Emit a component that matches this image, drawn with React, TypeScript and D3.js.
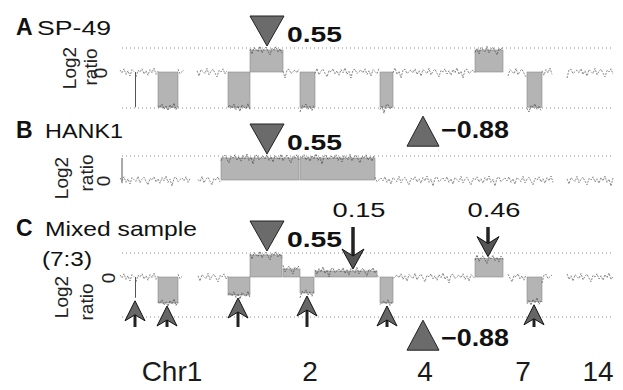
import * as d3 from "d3";

type Seg = { start: number; end: number; value: number };

// genome position (arbitrary units along the concatenated chromosomes) and log2 ratio
const sp49Segments: Seg[] = [
  { start: 2, end: 17, value: 0 },
  { start: 17, end: 18, value: -0.88 },
  { start: 18, end: 40, value: 0 },
  { start: 40, end: 60, value: -0.88 },
  { start: 60, end: 66, value: 0 },
  { start: 79, end: 110, value: 0 },
  { start: 110, end: 132, value: -0.88 },
  { start: 132, end: 165, value: 0.55 },
  { start: 165, end: 182, value: 0 },
  { start: 182, end: 197, value: -0.88 },
  { start: 197, end: 262, value: 0 },
  { start: 262, end: 275, value: -0.88 },
  { start: 275, end: 357, value: 0 },
  { start: 357, end: 385, value: 0.55 },
  { start: 390, end: 409, value: 0 },
  { start: 409, end: 424, value: -0.88 },
  { start: 424, end: 435, value: 0 },
  { start: 449, end: 495, value: 0 },
];

const hank1Segments: Seg[] = [
  { start: 2, end: 72, value: 0 },
  { start: 80, end: 103, value: 0 },
  { start: 103, end: 182, value: 0.55 },
  { start: 182, end: 257, value: 0.55 },
  { start: 257, end: 435, value: 0 },
  { start: 449, end: 495, value: 0 },
];

const mixedSegments: Seg[] = [
  { start: 2, end: 17, value: 0 },
  { start: 17, end: 18, value: -0.52 },
  { start: 18, end: 40, value: 0 },
  { start: 40, end: 60, value: -0.65 },
  { start: 60, end: 64, value: 0 },
  { start: 80, end: 110, value: 0 },
  { start: 110, end: 132, value: -0.45 },
  { start: 132, end: 165, value: 0.55 },
  { start: 165, end: 182, value: 0.2 },
  { start: 182, end: 196, value: -0.4 },
  { start: 197, end: 259, value: 0.15 },
  { start: 259, end: 262, value: 0 },
  { start: 262, end: 275, value: -0.65 },
  { start: 275, end: 357, value: 0 },
  { start: 357, end: 385, value: 0.46 },
  { start: 390, end: 409, value: 0 },
  { start: 409, end: 424, value: -0.62 },
  { start: 424, end: 435, value: 0 },
  { start: 449, end: 495, value: 0 },
];

// probe scatter around each segment level
const jitter = [
  0.05, -0.02, 0.08, -0.06, 0.03, -0.1, 0.06, 0.01, -0.04, 0.09, -0.07, 0.02,
  0.07, -0.03, -0.12, 0.04, 0.0, 0.08, -0.05, 0.03, -0.08, 0.06, -0.02, 0.1,
  -0.06, 0.02, -0.15, 0.05, 0.07, -0.04, 0.01,
];

const chrLabels = ["Chr1", "2", "4", "7", "14"];
const chrCenters = [54, 192, 307, 405, 480];

const gainPos = 149;
const gainLabel = "0.55";
const gainValue = 0.55;
const lossPos = 305;
const lossLabel = "\u22120.88";
const lossValue = -0.88;

const mixedGainArrows = [
  { pos: 235, value: 0.15, label: "0.15" },
  { pos: 370, value: 0.46, label: "0.46" },
];
const mixedLossArrows = [17, 49, 120, 189, 269, 416];

const panels = [
  { letter: "A", name: "SP-49", nameX: 37, nameLen: 74, sub: "", segs: sp49Segments, zero: 72, labelY: 35, log2X: 76, ratioX: 97, zeroX: 107, log2Y: 68, ratioY: 67, refs: [0.6, -0.9] },
  { letter: "B", name: "HANK1", nameX: 45, nameLen: 78, sub: "", segs: hank1Segments, zero: 180, labelY: 138, log2X: 68, ratioX: 93, zeroX: 110, log2Y: 178, ratioY: 173, refs: [0.6] },
  { letter: "C", name: "Mixed sample", nameX: 45, nameLen: 152, sub: "(7:3)", segs: mixedSegments, zero: 277, labelY: 236, log2X: 68, ratioX: 93, zeroX: 115, log2Y: 297, ratioY: 302, refs: [0.6, -1.0] },
];

const font = "'Liberation Sans', Arial, sans-serif";
const x = d3.scaleLinear().domain([0, 495]).range([118, 613]);

function yFor(zero: number) {
  return d3.scaleLinear().domain([-1, 1]).range([zero + 40, zero - 40]);
}

const line = d3.line<[number, number]>();

function scatter(seg: Seg, y: d3.ScaleLinear<number, number>, off: number) {
  const pts = d3
    .range(seg.start, seg.end + 0.01, 2)
    .map((u, i) => [x(u), y(seg.value + jitter[(i + off) % jitter.length])] as [number, number]);
  return line(pts) || "";
}

function DownTri({ cx, tip }: { cx: number; tip: number }) {
  return (
    <path
      d={`M${cx},${tip}L${cx - 17},${tip - 30}L${cx + 17},${tip - 30}Z`}
      fill="#6b6b6b"
      stroke="#222"
      strokeWidth={1}
    />
  );
}

function UpTri({ cx, tip }: { cx: number; tip: number }) {
  return (
    <path
      d={`M${cx},${tip}L${cx - 16},${tip + 30}L${cx + 16},${tip + 30}Z`}
      fill="#6b6b6b"
      stroke="#222"
      strokeWidth={1}
    />
  );
}

function Panel({ p, idx }: { p: (typeof panels)[0]; idx: number }) {
  const y = yFor(p.zero);
  return (
    <g>
      <text x={16} y={p.labelY} fontSize={23} fontWeight="bold" fill="#111">
        {p.letter}
      </text>
      <text x={p.nameX} y={p.labelY} fontSize={21} fill="#111" textLength={p.nameLen} lengthAdjust="spacingAndGlyphs">
        {p.name}
      </text>
      {p.sub && (
        <text x={42} y={266} fontSize={21} fill="#111" textLength={50} lengthAdjust="spacingAndGlyphs">
          {p.sub}
        </text>
      )}
      <text transform={`translate(${p.log2X},${p.log2Y}) rotate(-90)`} textAnchor="middle" fontSize={19} fill="#222">
        Log2
      </text>
      <text transform={`translate(${p.ratioX},${p.ratioY}) rotate(-90)`} textAnchor="middle" fontSize={19} fill="#222">
        ratio
      </text>
      <text transform={`translate(${p.zeroX},${y(0) + 1}) rotate(-90)`} textAnchor="middle" fontSize={19} fill="#222">
        0
      </text>

      {p.refs.map((r) => (
        <line
          key={r}
          x1={x(4)}
          x2={x(495)}
          y1={y(r)}
          y2={y(r)}
          stroke="#8a8a8a"
          strokeWidth={1}
          strokeDasharray="1 3"
        />
      ))}

      {idx === 1 && (
        <line x1={x(4)} x2={x(4)} y1={y(0.55)} y2={y(-0.08)} stroke="#555" strokeWidth={1} />
      )}

      {p.segs.map((s, i) => {
        const next = p.segs[i + 1];
        const split = next && next.start === s.end && s.value !== 0 && Math.sign(next.value) === Math.sign(s.value);
        if (s.value === 0) {
          return (
            <path
              key={i}
              d={scatter(s, y, i * 7)}
              fill="none"
              stroke="#6a6a6a"
              strokeWidth={0.8}
              strokeDasharray="2 1.2"
            />
          );
        }
        const w = x(s.end) - x(s.start) - (split ? 1 : 0);
        const top = Math.min(y(0), y(s.value));
        const h = Math.abs(y(s.value) - y(0));
        return (
          <g key={i}>
            <rect
              x={x(s.start)}
              y={top}
              width={Math.max(w, 1)}
              height={h}
              fill={w < 2 ? "#555" : "#b4b4b4"}
              stroke={w < 2 ? "none" : "#8a8a8a"}
              strokeWidth={0.6}
            />
            {w >= 2 && (
              <path
                d={scatter(s, y, i * 5)}
                fill="none"
                stroke="#555"
                strokeWidth={0.8}
                strokeDasharray="2 1"
              />
            )}
          </g>
        );
      })}

      <DownTri cx={x(gainPos)} tip={y(gainValue) - 4} />
      <text x={x(gainPos) + 20} y={y(gainValue) - 8} fontSize={22} fontWeight="bold" fill="#111" textLength={55} lengthAdjust="spacingAndGlyphs">
        {gainLabel}
      </text>
    </g>
  );
}

export default function App() {
  const yA = yFor(panels[0].zero);
  const yC = yFor(panels[2].zero);
  const valueAt = (u: number) => {
    const s = mixedSegments.find((d) => u >= d.start && u < d.end);
    return s ? s.value : 0;
  };
  const arrowBase = yC(-1.25);

  return (
    <svg
      width={623}
      height={390}
      viewBox="0 0 623 390"
      style={{ position: "absolute", left: 0, top: 0, background: "#fff", fontFamily: font }}
    >
      {panels.map((p, i) => (
        <Panel key={p.letter} p={p} idx={i} />
      ))}

      {/* loss marker between A and B, and under C */}
      <UpTri cx={x(lossPos)} tip={yA(lossValue) + 9} />
      <text x={x(lossPos) + 18} y={yA(lossValue) + 31} fontSize={23} fontWeight="bold" fill="#111" textLength={68} lengthAdjust="spacingAndGlyphs">
        {lossLabel}
      </text>
      <UpTri cx={x(lossPos)} tip={yC(lossValue) + 8} />
      <text x={x(lossPos) + 18} y={yC(lossValue) + 34} fontSize={23} fontWeight="bold" fill="#111" textLength={68} lengthAdjust="spacingAndGlyphs">
        {lossLabel}
      </text>

      {/* gain arrows in mixed sample */}
      {mixedGainArrows.map((a) => {
        const cx = x(a.pos);
        const tip = yC(a.value) - 2;
        return (
          <g key={a.label}>
            <text x={cx + 6} y={yC(0) - 60} textAnchor="middle" fontSize={21} fill="#111" textLength={53} lengthAdjust="spacingAndGlyphs">
              {a.label}
            </text>
            <line x1={cx} x2={cx} y1={yC(0) - 50} y2={tip - 8} stroke="#222" strokeWidth={3.5} />
            <path
              d={`M${cx},${tip}L${cx - 11},${tip - 20}L${cx},${tip - 13}L${cx + 11},${tip - 20}Z`}
              fill="#555"
              stroke="#111"
              strokeWidth={1}
            />
          </g>
        );
      })}

      {/* loss arrows in mixed sample */}
      {mixedLossArrows.map((u) => {
        const cx = x(u);
        const tip = yC(valueAt(u)) + 3;
        return (
          <g key={u}>
            <line x1={cx} x2={cx} y1={tip + 8} y2={arrowBase} stroke="#222" strokeWidth={3} />
            <path
              d={`M${cx},${tip}L${cx + 10},${tip + 20}L${cx},${tip + 14}L${cx - 10},${tip + 20}Z`}
              fill="#666"
              stroke="#111"
              strokeWidth={1}
            />
          </g>
        );
      })}

      {chrLabels.map((c, i) => (
        <text key={c} x={x(chrCenters[i])} y={381} textAnchor="middle" fontSize={28} fill="#1a1a1a">
          {c}
        </text>
      ))}
    </svg>
  );
}
